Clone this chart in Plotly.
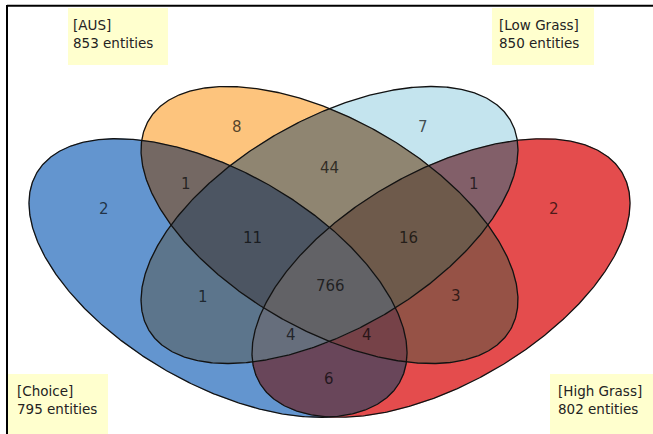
import numpy as np
import plotly.graph_objects as go

# ---- data -------------------------------------------------------------
set_names = ["Choice", "AUS", "Low Grass", "High Grass"]
set_totals = [795, 853, 850, 802]

# region membership strings follow the order of set_names
region_keys = ["1000", "0100", "0010", "0001",
               "1100", "0110", "0011", "1010", "0101", "1001",
               "1110", "0111", "1011", "1101", "1111"]
region_counts = [2, 8, 7, 2,
                 1, 44, 1, 1, 3, 6,
                 11, 16, 4, 4, 766]

# ---- geometry & style ---------------------------------------------------
W, H = 653, 434
# ellipse centre, semi-major, semi-minor, tilt (deg, screen coords)
ellipses = [
    dict(cx=218.0, cy=278.0, a=209.5, b=106.0, ang=30.0),    # Choice
    dict(cx=329.5, cy=225.0, a=209.0, b=105.0, ang=30.0),    # AUS
    dict(cx=329.5, cy=225.0, a=209.0, b=105.0, ang=-30.0),   # Low Grass
    dict(cx=441.0, cy=278.0, a=209.5, b=106.0, ang=-30.0),   # High Grass
]

region_colors = {
    "1000": "rgb(99,149,207)",
    "0100": "rgb(253,196,125)",
    "0010": "rgb(196,228,238)",
    "0001": "rgb(228,76,77)",
    "1100": "rgb(116,104,99)",
    "0110": "rgb(143,133,113)",
    "0011": "rgb(130,95,105)",
    "1010": "rgb(92,117,140)",
    "0101": "rgb(150,82,70)",
    "1001": "rgb(105,70,90)",
    "1110": "rgb(76,85,98)",
    "0111": "rgb(110,90,75)",
    "1011": "rgb(102,110,124)",
    "1101": "rgb(118,66,72)",
    "1111": "rgb(98,98,102)",
}

label_pos = {
    "1000": (104, 209), "0100": (237, 127), "0010": (423, 127), "0001": (554, 209),
    "1100": (186, 184), "0011": (474, 184), "0110": (329, 168), "1110": (252, 238),
    "0111": (408, 238), "1010": (203, 297), "0101": (456, 296), "1111": (330, 286),
    "1011": (291, 335), "1101": (367, 335), "1001": (329, 379),
}

# yellow caption boxes: (x0, x1, y0, y1, text_x, line1_y, line2_y)
caption_boxes = [
    (8, 108, 374, 436, 15, 391, 409),       # Choice
    (68, 168, 8, 65, 71, 25, 43),           # AUS
    (492, 594, 8, 65, 497, 25, 43),         # Low Grass
    (550, 655, 374, 436, 556, 391, 409),    # High Grass
]


def ellipse_xy(e, t):
    th = np.radians(e["ang"])
    ca, sa = np.cos(th), np.sin(th)
    u = e["a"] * np.cos(t)
    v = e["b"] * np.sin(t)
    return e["cx"] + u * ca - v * sa, e["cy"] + u * sa + v * ca


def inside(e, x, y):
    th = np.radians(e["ang"])
    ca, sa = np.cos(th), np.sin(th)
    dx, dy = x - e["cx"], y - e["cy"]
    u = dx * ca + dy * sa
    v = -dx * sa + dy * ca
    return (u / e["a"]) ** 2 + (v / e["b"]) ** 2 < 1.0


def key_to_code(key):
    return sum(int(ch) << j for j, ch in enumerate(key))


# split every ellipse outline into arcs of constant membership, and tag
# each arc with the two regions it separates
N = 6000
arcs = []
for i, e in enumerate(ellipses):
    t = np.linspace(0, 2 * np.pi, N, endpoint=False)
    x, y = ellipse_xy(e, t)
    code = np.zeros(N, dtype=int)
    for j, f in enumerate(ellipses):
        if j != i:
            code |= inside(f, x, y).astype(int) << j
    starts = np.nonzero(code != np.roll(code, 1))[0]
    if len(starts) == 0:
        starts = np.array([0])
    for k, s in enumerate(starts):
        e_idx = starts[(k + 1) % len(starts)]
        stop = e_idx if e_idx > s else e_idx + N
        idx = np.arange(s, stop + 1) % N
        pts = np.vstack([x[idx], y[idx]])
        c = int(code[s])
        arcs.append((c | (1 << i), pts))
        if c:
            arcs.append((c, pts))


def region_polygon(code):
    segs = [p for c, p in arcs if c == code]
    poly = segs.pop(0)
    while segs:
        end = poly[:, -1]
        best, best_d, flip = 0, np.inf, False
        for k, s in enumerate(segs):
            d0 = np.hypot(*(s[:, 0] - end))
            d1 = np.hypot(*(s[:, -1] - end))
            if d0 < best_d:
                best, best_d, flip = k, d0, False
            if d1 < best_d:
                best, best_d, flip = k, d1, True
        s = segs.pop(best)
        poly = np.hstack([poly, s[:, ::-1] if flip else s])
    return poly[0], poly[1]


fig = go.Figure()

# filled regions
for key in region_keys:
    px, py = region_polygon(key_to_code(key))
    fig.add_trace(go.Scatter(
        x=np.append(px, px[0]), y=np.append(py, py[0]),
        mode="lines", fill="toself", fillcolor=region_colors[key],
        line=dict(width=0.6, color=region_colors[key]),
        hoverinfo="skip", showlegend=False))

# outlines
tt = np.linspace(0, 2 * np.pi, 721)
for e in ellipses:
    ex, ey = ellipse_xy(e, tt)
    fig.add_trace(go.Scatter(
        x=ex, y=ey, mode="lines",
        line=dict(color="rgb(18,18,18)", width=1.3),
        hoverinfo="skip", showlegend=False))

annotations = []
for key, cnt in zip(region_keys, region_counts):
    lx, ly = label_pos[key]
    annotations.append(dict(
        x=lx, y=ly, text=str(cnt), showarrow=False,
        xanchor="center", yanchor="middle",
        font=dict(family="DejaVu Sans", size=15, color="rgba(0,0,0,0.68)")))

shapes = []
for name, total, box in zip(set_names, set_totals, caption_boxes):
    x0, x1, y0, y1, tx, l1, l2 = box
    shapes.append(dict(type="rect", xref="x", yref="y", x0=x0, x1=x1, y0=y0, y1=y1,
                       fillcolor="rgb(255,255,206)", line=dict(width=0), layer="below"))
    for txt, ly in ((f"[{name}]", l1), (f"{total} entities", l2)):
        annotations.append(dict(
            x=tx, y=ly, text=txt, showarrow=False,
            xanchor="left", yanchor="middle",
            font=dict(family="DejaVu Sans", size=13.5, color="rgb(35,35,35)")))

# frame lines along the top and left edge
shapes.append(dict(type="line", xref="x", yref="y", x0=7, x1=W + 2, y0=5.8, y1=5.8,
                   line=dict(color="black", width=2)))
shapes.append(dict(type="line", xref="x", yref="y", x0=7, x1=7, y0=5, y1=H + 2,
                   line=dict(color="black", width=2)))

fig.update_layout(
    width=W, height=H,
    margin=dict(l=0, r=0, t=0, b=0),
    paper_bgcolor="white", plot_bgcolor="white",
    xaxis=dict(range=[0, W], visible=False, fixedrange=True),
    yaxis=dict(range=[H, 0], visible=False, fixedrange=True),
    annotations=annotations, shapes=shapes,
)

fig.write_html("out.html")
